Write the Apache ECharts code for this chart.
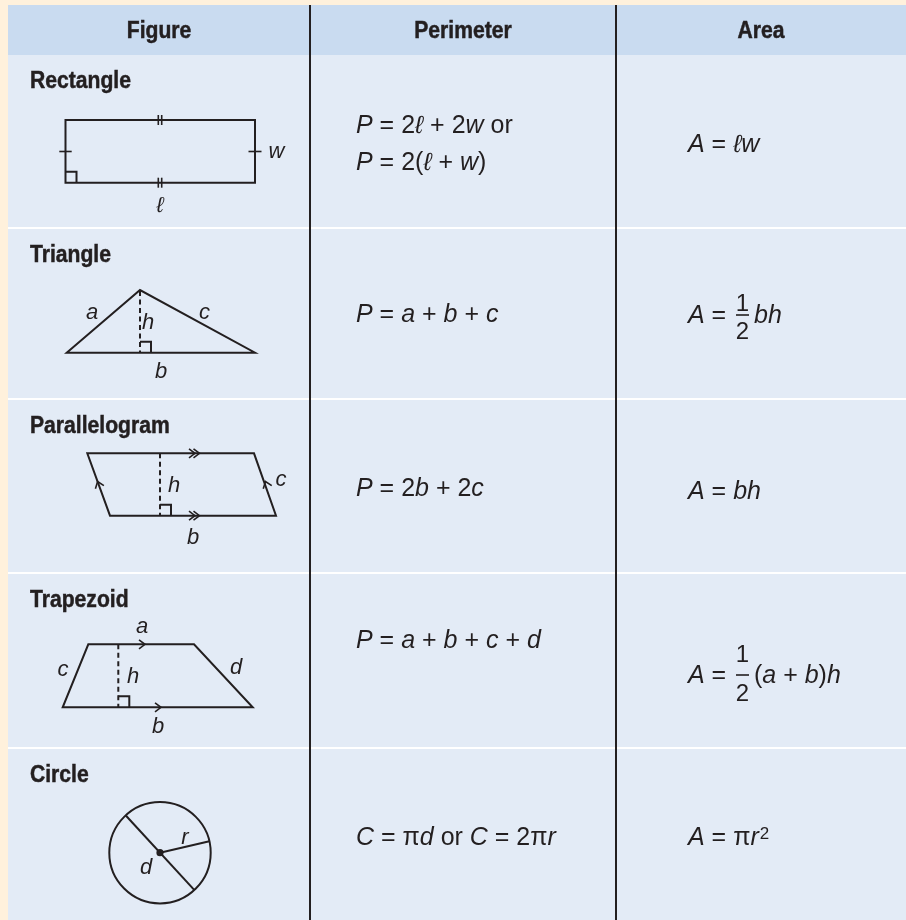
<!DOCTYPE html>
<html>
<head>
<meta charset="utf-8">
<script src="https://cdn.jsdelivr.net/npm/echarts@6/dist/echarts.min.js"></script>
<style>
  html, body { margin: 0; padding: 0; background: #fff; }
  #main { width: 906px; height: 920px; }
</style>
</head>
<body>
<div id="main"></div>
<script>
// table content
const headers = ['Figure', 'Perimeter', 'Area'];
const figureNames = ['Rectangle', 'Triangle', 'Parallelogram', 'Trapezoid', 'Circle'];
const perimeterFormulas = [
  ['{i|P} = 2{i|ℓ} + 2{i|w} or', '{i|P} = 2({i|ℓ} + {i|w})'],
  ['{i|P} = {i|a} + {i|b} + {i|c}'],
  ['{i|P} = 2{i|b} + 2{i|c}'],
  ['{i|P} = {i|a} + {i|b} + {i|c} + {i|d}'],
  ['{i|C} = π{i|d} or {i|C} = 2π{i|r}']
];
// [lead, fraction (numerator, denominator), tail]
const areaFormulas = [
  ['{i|A} = {i|ℓw}'],
  ['{i|A} =', ['1', '2'], '{i|bh}'],
  ['{i|A} = {i|bh}'],
  ['{i|A} =', ['1', '2'], '({i|a} + {i|b}){i|h}'],
  ['{i|A} = π{i|r}{sup|2}']
];
const sideLabels = [
  ['w', 'ℓ'],
  ['a', 'h', 'c', 'b'],
  ['h', 'c', 'b'],
  ['a', 'c', 'h', 'd', 'b'],
  ['r', 'd']
];

const INK = '#231f20';
const colX = [8, 310, 616, 906];
const rowTop = [55, 229, 400, 574, 749, 920];
const boldFont = '"Liberation Sans", Arial, sans-serif';
const mathFont = '"Liberation Sans", Arial, sans-serif';
const FS = 25;

const chart = echarts.init(document.getElementById('main'));
const els = [];

function line(x1, y1, x2, y2, w, dash) {
  els.push({ type: 'line', silent: true, z: 10,
    shape: { x1: x1, y1: y1, x2: x2, y2: y2 },
    style: { stroke: INK, lineWidth: w || 2, lineDash: dash || null } });
}
function poly(points, closed, w) {
  els.push({ type: closed ? 'polygon' : 'polyline', silent: true, z: 10,
    shape: { points: points },
    style: { fill: null, stroke: INK, lineWidth: w || 2, lineJoin: 'miter' } });
}
function chevron(x, y, dx, dy, s) {
  s = s || 6;
  const len = Math.sqrt(dx * dx + dy * dy);
  const ux = dx / len, uy = dy / len;
  const px = -uy, py = ux;
  poly([[x - ux * s + px * 4.5, y - uy * s + py * 4.5], [x, y],
        [x - ux * s - px * 4.5, y - uy * s - py * 4.5]], false, 1.6);
}
function label(x, y, t) {
  els.push({ type: 'text', silent: true, z: 11, x: x, y: y,
    style: { text: t, fill: INK, fontFamily: mathFont, fontStyle: 'italic',
      fontSize: 22, align: 'center', verticalAlign: 'middle' } });
}
function formula(x, y, t) {
  els.push({ type: 'text', silent: true, z: 11, x: x, y: y,
    style: { text: t, fill: INK, fontFamily: mathFont, fontSize: FS,
      align: 'left', verticalAlign: 'middle',
      rich: {
        i: { fontFamily: mathFont, fontStyle: 'italic', fontSize: FS, fill: INK },
        sup: { fontFamily: mathFont, fontSize: 17, fill: INK, verticalAlign: 'top', padding: [0, 0, 0, 1] }
      } } });
}
function boldText(x, y, t, align) {
  els.push({ type: 'text', silent: true, z: 11, x: x, y: y, scaleX: 0.88,
    style: { text: t, fill: INK, fontFamily: boldFont, fontWeight: 'bold', fontSize: 24,
      stroke: INK, lineWidth: 0.5, align: align, verticalAlign: 'middle' } });
}

// backgrounds
els.push({ type: 'rect', silent: true, shape: { x: 0, y: 0, width: 906, height: 920 }, style: { fill: '#fff1dc' } });
els.push({ type: 'rect', silent: true, shape: { x: 8, y: 5, width: 898, height: 50 }, style: { fill: '#c9dbf0' } });
els.push({ type: 'rect', silent: true, shape: { x: 8, y: 55, width: 898, height: 865 }, style: { fill: '#e3ebf6' } });
for (let r = 1; r < 5; r++) {
  els.push({ type: 'rect', silent: true, z: 1, shape: { x: 8, y: rowTop[r] - 2, width: 898, height: 2 }, style: { fill: '#ffffff' } });
}
// column dividers
[colX[1], colX[2]].forEach(function (x) {
  els.push({ type: 'rect', silent: true, z: 5, shape: { x: x - 1, y: 5, width: 2, height: 915 }, style: { fill: INK } });
});

// headers
headers.forEach(function (h, c) {
  boldText((colX[c] + colX[c + 1]) / 2, 31.5, h, 'center');
});

// row titles
figureNames.forEach(function (name, r) {
  boldText(30, rowTop[r] + 26.5, name, 'left');
});

// perimeter formulas: vertical centres relative to row top
const perimY = [[71, 108.3], [86], [89], [67], [89]];
perimeterFormulas.forEach(function (lines, r) {
  lines.forEach(function (t, k) { formula(356, rowTop[r] + perimY[r][k], t); });
});

// area formulas
const areaY = [90.3, 87, 92, 102, 89];
const fracOff = [null, [-12, 16.5], null, [-20.5, 18.5], null];
areaFormulas.forEach(function (parts, r) {
  const y = rowTop[r] + areaY[r];
  formula(688, y, parts[0]);
  if (parts.length > 1) {
    const fx = 742.5;
    els.push({ type: 'text', silent: true, z: 11, x: fx, y: y + fracOff[r][0],
      style: { text: parts[1][0], fill: INK, fontFamily: mathFont, fontSize: 24, align: 'center', verticalAlign: 'middle' } });
    els.push({ type: 'text', silent: true, z: 11, x: fx, y: y + fracOff[r][1],
      style: { text: parts[1][1], fill: INK, fontFamily: mathFont, fontSize: 24, align: 'center', verticalAlign: 'middle' } });
    els.push({ type: 'line', silent: true, z: 11, shape: { x1: fx - 6.5, y1: y - 1, x2: fx + 6.5, y2: y - 1 },
      style: { stroke: INK, lineWidth: 1.6 } });
    formula(754, y, parts[2]);
  }
});

// --- figures ---
// rectangle
(function () {
  const t = rowTop[0];
  poly([[65.5, t + 65], [255, t + 65], [255, t + 127.7], [65.5, t + 127.7]], true);
  poly([[65.5, t + 116.7], [76.5, t + 116.7], [76.5, t + 127.7]], false);
  [65, 127.7].forEach(function (yy) {
    line(158.3, t + yy - 5, 158.3, t + yy + 5, 1.6);
    line(161.7, t + yy - 5, 161.7, t + yy + 5, 1.6);
  });
  line(59.3, t + 96.5, 71.7, t + 96.5, 1.6);
  line(248.5, t + 96.5, 261.5, t + 96.5, 1.6);
  label(276.5, t + 97, sideLabels[0][0]);
  label(160, t + 151, sideLabels[0][1]);
})();

// triangle
(function () {
  const t = rowTop[1];
  poly([[66.7, t + 123.7], [140, t + 61], [255, t + 123.7]], true);
  line(140, t + 62, 140, t + 123.7, 2, [5, 3.5]);
  poly([[140, t + 112.7], [151, t + 112.7], [151, t + 123.7]], false);
  const L = sideLabels[1];
  label(92, t + 83.7, L[0]);
  label(148, t + 94, L[1]);
  label(204.5, t + 83.7, L[2]);
  label(161, t + 142.7, L[3]);
})();

// parallelogram
(function () {
  const t = rowTop[2];
  poly([[87.3, t + 53.3], [254, t + 53.3], [276, t + 115.7], [110, t + 115.7]], true);
  line(160, t + 53.3, 160, t + 115.7, 2, [5, 3.5]);
  poly([[160, t + 104.7], [171, t + 104.7], [171, t + 115.7]], false);
  [53.3, 115.7].forEach(function (yy) {
    chevron(195, t + yy, 1, 0);
    chevron(199.5, t + yy, 1, 0);
  });
  chevron(97.6, t + 81.5, -22.7, -62.4);
  chevron(265.5, t + 81.5, -22, -62.4);
  const L = sideLabels[2];
  label(174, t + 86, L[0]);
  label(281, t + 80, L[1]);
  label(193, t + 138, L[2]);
})();

// trapezoid
(function () {
  const t = rowTop[3];
  poly([[88.3, t + 70.3], [194, t + 70.3], [252.7, t + 133.3], [62.7, t + 133.3]], true);
  line(118.3, t + 70.3, 118.3, t + 133.3, 2, [5, 3.5]);
  poly([[118.3, t + 122.3], [129.3, t + 122.3], [129.3, t + 133.3]], false);
  chevron(145, t + 70.3, 1, 0);
  chevron(161, t + 133.3, 1, 0);
  const L = sideLabels[3];
  label(142, t + 53.3, L[0]);
  label(63, t + 96, L[1]);
  label(133, t + 102.7, L[2]);
  label(236, t + 94.3, L[3]);
  label(158, t + 153, L[4]);
})();

// circle
(function () {
  const t = rowTop[4];
  const cx = 160, cy = t + 103.7, R = 50.7;
  els.push({ type: 'circle', silent: true, z: 10, shape: { cx: cx, cy: cy, r: R },
    style: { fill: null, stroke: INK, lineWidth: 2 } });
  line(cx - 34.2, cy - 37.2, cx + 34.2, cy + 37.2, 2);
  line(cx, cy, cx + 49.4, cy - 11.5, 2);
  els.push({ type: 'circle', silent: true, z: 12, shape: { cx: cx, cy: cy, r: 3.6 },
    style: { fill: INK } });
  const L = sideLabels[4];
  label(185, t + 89, L[0]);
  label(146, t + 119, L[1]);
})();

chart.setOption({ animation: false, graphic: { elements: els } });
</script>
</body>
</html>
